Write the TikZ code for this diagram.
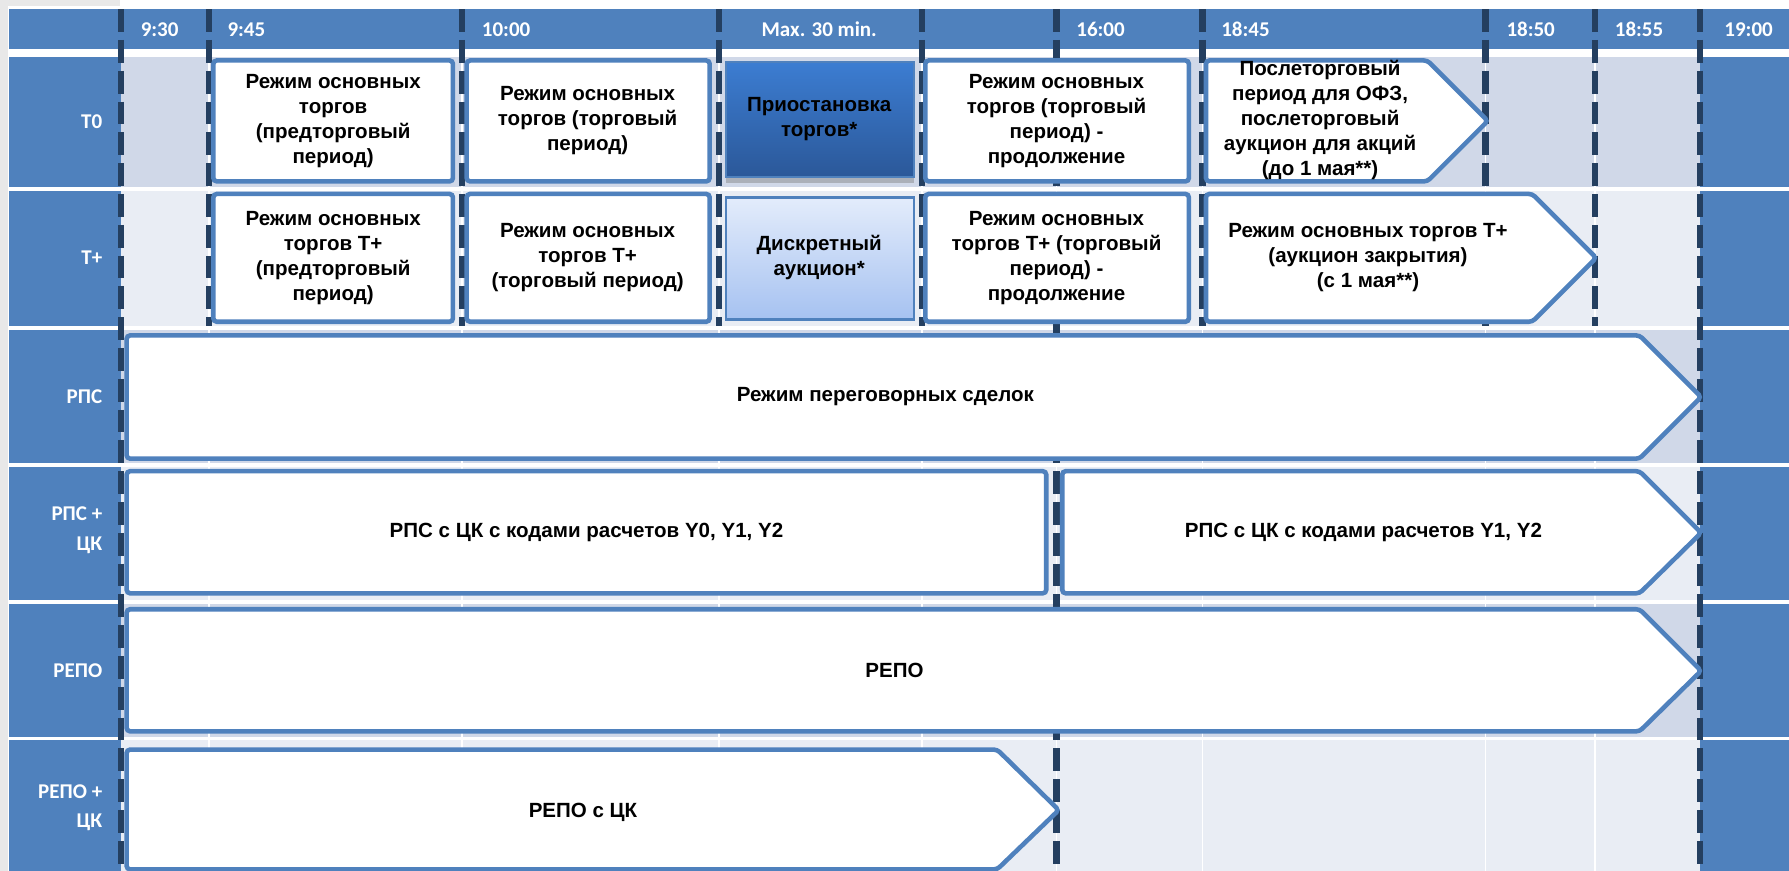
\documentclass[tikz,border=0pt]{standalone}
\usepackage{fontspec}
\setmainfont{Liberation Sans}
\newfontfamily\headfont{Carlito}
\usetikzlibrary{shadows}

\definecolor{headblue}{HTML}{4F81BD}
\definecolor{banddark}{HTML}{D0D8E8}
\definecolor{bandlight}{HTML}{E9EDF4}
\definecolor{markblue}{HTML}{243F60}
\definecolor{pausetop}{HTML}{3C7DD2}
\definecolor{pausebottom}{HTML}{2B5899}
\definecolor{auctiontop}{HTML}{E3ECFB}
\definecolor{auctionbottom}{HTML}{A6C2F1}

\tikzset{
  headlabel/.style={font=\headfont\bfseries\fontsize{9.2}{11}\selectfont, text=white, inner sep=0pt},
  rowlabel/.style={font=\headfont\bfseries\fontsize{9.2}{13}\selectfont, text=white, align=right, inner sep=0pt, anchor=east},
  boxtext/.style={font=\bfseries\fontsize{9}{11}\selectfont, align=center, inner sep=0pt},
  modebox/.style={draw=headblue, fill=white, line width=2pt, rounded corners=1.5pt},
  pausebox/.style={draw=headblue, line width=0.8pt, top color=pausetop, bottom color=pausebottom,
    drop shadow={shadow xshift=0pt, shadow yshift=-2.5pt, opacity=0.45}},
  auctionbox/.style={draw=headblue, line width=1pt, top color=auctiontop, bottom color=auctionbottom},
  gridline/.style={draw=white, line width=0.75pt},
  timemark/.style={draw=markblue, line width=2.75pt, dash pattern=on 10pt off 3.5pt},
}

\begin{document}
\begin{tikzpicture}[x=0.5pt, y=-0.5pt]
  \useasboundingbox (0,0) rectangle (1568,763);

  % page edge
  \fill[black!9] (0,0) rectangle (7,763);
  \fill[black!9] (0,0) rectangle (105,5);

  % header row
  \fill[headblue] (8,8) rectangle (1568,43);

  % body rows: first column, bands, last column
  \foreach \ya/\yb/\band in {50/164/banddark, 167/286/bandlight, 289/406/banddark,
                             409/526/bandlight, 529/646/banddark, 649/763/bandlight} {
    \fill[headblue] (8,\ya) rectangle (106,\yb);
    \fill[\band] (106,\ya) rectangle (1490,\yb);
    \fill[headblue] (1490,\ya) rectangle (1568,\yb);
  }
  \foreach \x in {183,405,630,808,926,1054,1302,1398}
    \draw[gridline] (\x,50) -- (\x,763);

  % time marks
  \foreach \x in {183,405,630,808,1054,1302,1398}
    \draw[timemark] (\x,8) -- (\x,286);
  \foreach \x in {106,926,1490}
    \draw[timemark] (\x,8) -- (\x,763);

  % header labels
  \node[headlabel, anchor=west] (h0930) at (123,26) {9:30};
  \node[headlabel, anchor=west] (h0945) at (199,26) {9:45};
  \node[headlabel, anchor=west] (h1000) at (422,26) {10:00};
  \node[headlabel] (hmax) at (718,26) {Max. 30 min.};
  \node[headlabel, anchor=west] (h1600) at (943,26) {16:00};
  \node[headlabel, anchor=west] (h1845) at (1070,26) {18:45};
  \node[headlabel, anchor=west] (h1850) at (1320,26) {18:50};
  \node[headlabel, anchor=west] (h1855) at (1415,26) {18:55};
  \node[headlabel, anchor=west] (h1900) at (1511,26) {19:00};

  % row labels
  \node[rowlabel] (ltzero) at (90,107) {Т0};
  \node[rowlabel] (ltplus) at (90,226) {Т+};
  \node[rowlabel] (lrps) at (90,348) {РПС};
  \node[rowlabel] (lrpsck) at (90,465) {РПС +\\ЦК};
  \node[rowlabel] (lrepo) at (90,588) {РЕПО};
  \node[rowlabel] (lrepock) at (90,708) {РЕПО +\\ЦК};

  % Т0
  \draw[modebox] (187,53) rectangle (397,159);
  \draw[modebox] (409,53) rectangle (622,159);
  \draw[pausebox] (636,54) rectangle (801,155);
  \draw[modebox] (811,53) rectangle (1042,159);
  \draw[modebox] (1057,53) -- (1251,53) -- (1304,106) -- (1251,159) -- (1057,159) -- cycle;
  \node[boxtext] (t0pre) at (292,106) {Режим основных\\торгов\\(предторговый\\период)};
  \node[boxtext] (t0main) at (515,106) {Режим основных\\торгов (торговый\\период)};
  \node[boxtext] (t0pause) at (718,104) {Приостановка\\торгов*};
  \node[boxtext] (t0cont) at (926,106) {Режим основных\\торгов (торговый\\период) -\\продолжение};
  \node[boxtext] (t0post) at (1157,105) {Послеторговый\\период для ОФЗ,\\послеторговый\\аукцион для акций\\(до 1 мая**)};

  % Т+
  \draw[modebox] (187,170) rectangle (397,282);
  \draw[modebox] (409,170) rectangle (622,282);
  \draw[auctionbox] (636,173) rectangle (801,280);
  \draw[modebox] (811,170) rectangle (1042,282);
  \draw[modebox] (1057,170) -- (1343,170) -- (1399,226) -- (1343,282) -- (1057,282) -- cycle;
  \node[boxtext] (tppre) at (292,226) {Режим основных\\торгов Т+\\(предторговый\\период)};
  \node[boxtext] (tpmain) at (515,226) {Режим основных\\торгов Т+\\(торговый период)};
  \node[boxtext] (tpauction) at (718,226) {Дискретный\\аукцион*};
  \node[boxtext] (tpcont) at (926,226) {Режим основных\\торгов Т+ (торговый\\период) -\\продолжение};
  \node[boxtext] (tpclose) at (1199,226) {Режим основных торгов Т+\\(аукцион закрытия)\\(с 1 мая**)};

  % РПС, РПС + ЦК
  \draw[modebox] (111,294) -- (1437,294) -- (1491,348) -- (1437,402) -- (111,402) -- cycle;
  \node[boxtext] (rps) at (776,348) {Режим переговорных сделок};
  \draw[modebox] (111,413) rectangle (917,520);
  \draw[modebox] (931,413) -- (1437,413) -- (1491,467) -- (1437,520) -- (931,520) -- cycle;
  \node[boxtext] (rpsckall) at (514,467) {РПС с ЦК с кодами расчетов Y0, Y1, Y2};
  \node[boxtext] (rpsckpart) at (1195,467) {РПС с ЦК с кодами расчетов Y1, Y2};

  % РЕПО, РЕПО + ЦК
  \draw[modebox] (111,534) -- (1437,534) -- (1491,588) -- (1437,641) -- (111,641) -- cycle;
  \node[boxtext] (repo) at (784,588) {РЕПО};
  \draw[modebox] (111,657) -- (874,657) -- (928,710) -- (874,762) -- (111,762) -- cycle;
  \node[boxtext] (repock) at (511,712) {РЕПО с ЦК};
\end{tikzpicture}
\end{document}
